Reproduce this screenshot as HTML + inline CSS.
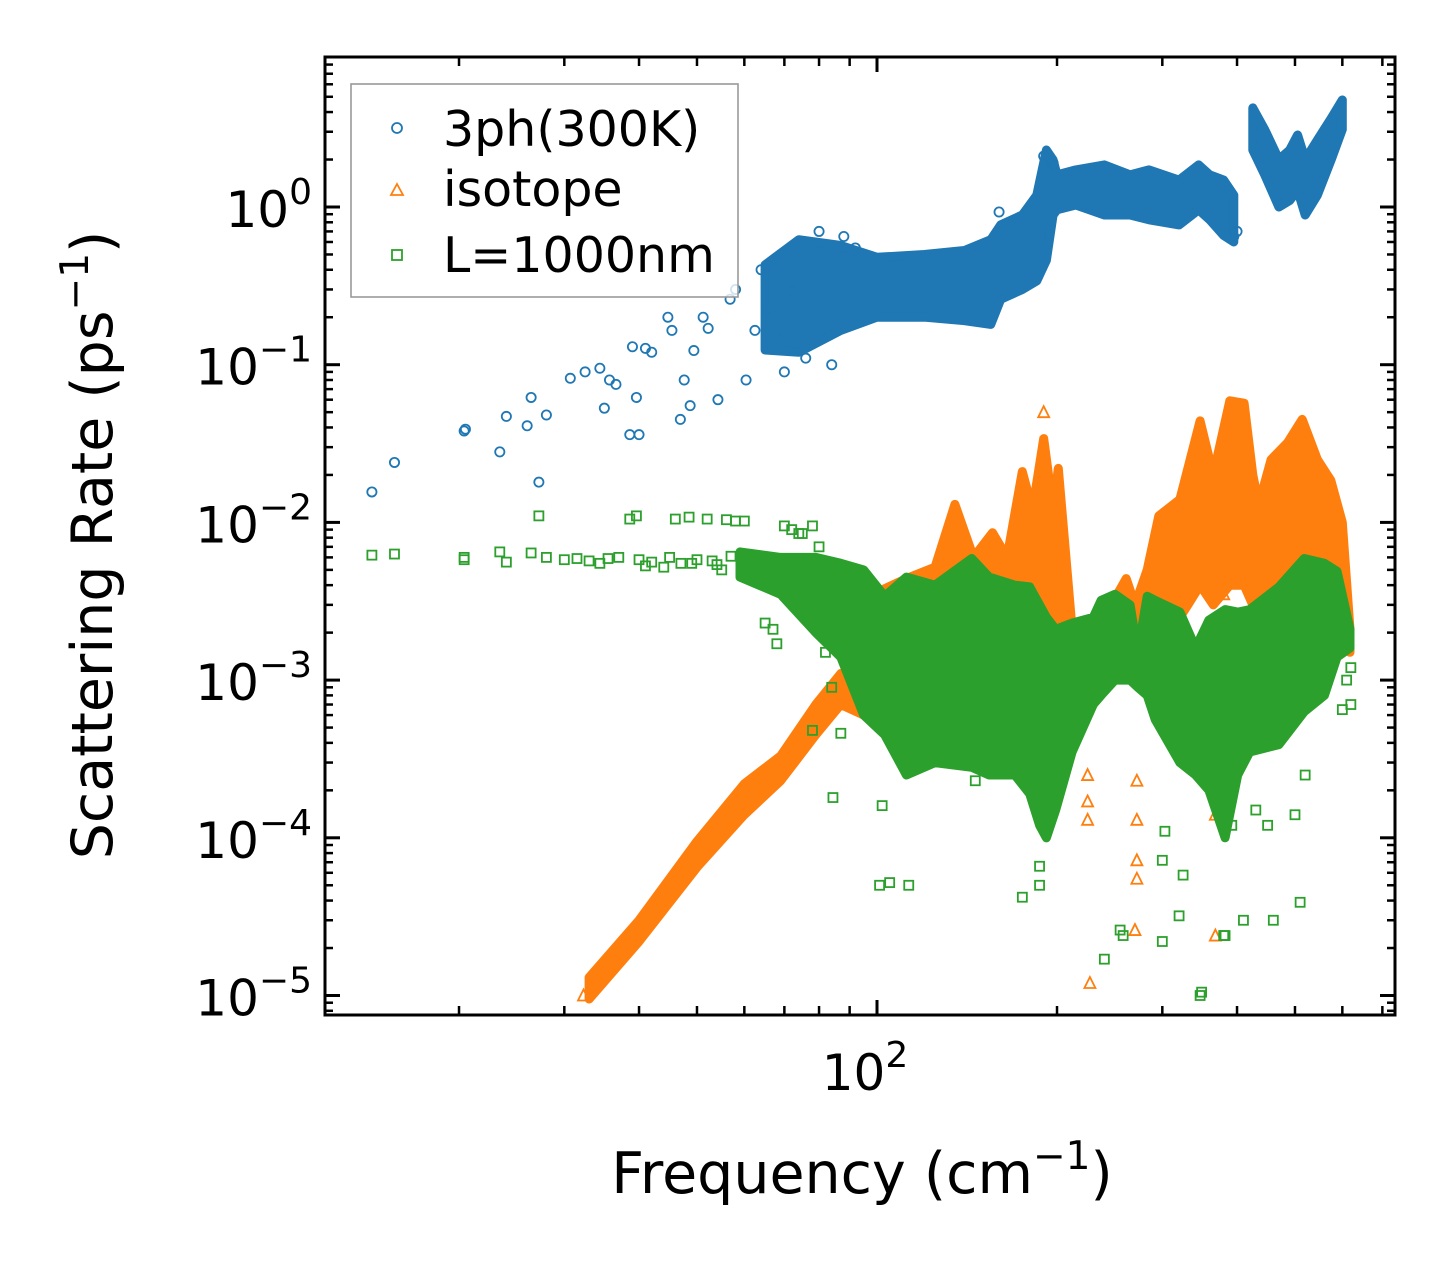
<!DOCTYPE html>
<html><head><meta charset="utf-8">
<style>
html,body{margin:0;padding:0;background:#fff;}
svg{display:block;font-family:"DejaVu Sans","Liberation Sans",sans-serif;}
</style></head>
<body>
<svg id="chart" width="1455" height="1265" viewBox="0 0 1455 1265" xmlns="http://www.w3.org/2000/svg">
<rect x="0" y="0" width="1455" height="1265" fill="#fff"/>
<g id="plot"></g>
<g id="axes"></g>
<text x="862" y="1193" font-size="57" text-anchor="middle">Frequency (cm<tspan dy="-24" font-size="39">−1</tspan><tspan dy="24">)</tspan></text>
<text transform="translate(112,545) rotate(-90)" font-size="57" text-anchor="middle">Scattering Rate (ps<tspan dy="-24" font-size="39">−1</tspan><tspan dy="24">)</tspan></text>
<g>
<rect x="351" y="84" width="387" height="213" fill="#fff" fill-opacity="0.8" stroke="#999" stroke-width="1.6"/>
<circle cx="397" cy="128" r="5" fill="none" stroke="#1f77b4" stroke-width="1.8"/>
<text x="443" y="146" font-size="49">3ph(300K)</text>
<path d="M397,184 L403,195 L391,195 Z" fill="none" stroke="#ff7f0e" stroke-width="1.8"/>
<text x="443" y="206" font-size="49">isotope</text>
<rect x="392" y="250" width="10" height="10" fill="none" stroke="#2ca02c" stroke-width="1.8"/>
<text x="443" y="272" font-size="49">L=1000nm</text>
</g>
</svg>
<script>
// ---- data ----
const blueBandA_f  = [65,74,87,100,120,140,155,161,175,185,192,197,200,215,240,265,285,320,345,360,380,395];
const blueBandA_lo = [0.124,0.12,0.165,0.2,0.2,0.19,0.18,0.26,0.30,0.34,0.46,0.89,0.96,1.03,0.89,0.89,0.83,0.77,0.96,0.83,0.66,0.6];
const blueBandA_hi = [0.43,0.62,0.57,0.48,0.5,0.53,0.62,0.77,0.89,1.19,2.3,1.99,1.6,1.72,1.85,1.6,1.72,1.48,1.85,1.6,1.48,1.19];
const blueBandB_f  = [425,445,470,490,505,520,545,575,600];
const blueBandB_lo = [2.3,1.6,1.0,1.1,1.28,0.89,1.19,2.0,3.1];
const blueBandB_hi = [4.25,3.1,2.0,2.3,2.86,2.0,2.66,3.66,4.77];
const blueScatter_f = [14.3,15.6,20.4,20.5,23.4,24,26,26.4,27.2,28,30.7,32.5,34.4,35.7,35,36.6,39,39.6,38.6,40,41,42,44.7,45.4,46.9,47.6,48.7,49.4,51.2,52.2,54.2,56.8,58,60.4,62.5,64,66,68,70,72,76,80,84,88,92,160,190,194,197,395,400];
const blueScatter_v = [0.0156,0.024,0.038,0.039,0.028,0.047,0.041,0.062,0.018,0.048,0.082,0.09,0.095,0.08,0.053,0.075,0.13,0.062,0.036,0.036,0.127,0.12,0.2,0.165,0.045,0.08,0.055,0.123,0.2,0.17,0.06,0.26,0.3,0.08,0.165,0.4,0.22,0.15,0.09,0.3,0.11,0.7,0.1,0.65,0.55,0.93,2.1,2.0,1.9,0.65,0.7];

const orangeBand_f  = [33,40,50,60,69,79,87,95,98,103,112,125,135,145,156,165,175,182,190,197,201,212,222,240,261,270,283,296,321,331,347,365,389,411,425,435,456,486,514,545,574,600,618];
const orangeBand_lo = [9.5e-6,2.2e-5,6.5e-5,1.4e-4,2.3e-4,4.5e-4,7e-4,6e-4,7e-4,7e-4,7e-4,7e-4,8e-4,8e-4,8e-4,9e-4,1e-3,1.2e-3,1.5e-3,2e-3,2e-3,1.2e-3,8e-4,1e-3,1.5e-3,1.2e-3,1.5e-3,2e-3,2.5e-3,3e-3,4e-3,3e-3,4e-3,4e-3,3e-3,3e-3,4e-3,4e-3,4e-3,3e-3,3e-3,2e-3,1.5e-3];
const orangeBand_hi = [1.3e-5,3.0e-5,9.5e-5,2.2e-4,3.3e-4,7e-4,1.1e-3,1.0e-3,1.5e-3,3.8e-3,4.4e-3,5.2e-3,1.3e-2,6e-3,8.6e-3,6e-3,2.1e-2,1.2e-2,3.4e-2,1.2e-2,2.2e-2,2.1e-3,1.5e-3,2.5e-3,4.4e-3,3e-3,5e-3,1.1e-2,1.4e-2,2.2e-2,4.4e-2,2e-2,5.9e-2,5.7e-2,2e-2,1.3e-2,2.5e-2,3.2e-2,4.5e-2,2.5e-2,1.85e-2,1.0e-2,2.1e-3];
const orangeScatter_f = [32.3,190,227,225,225,225,270,272,272,272,272,368,368,300,310,330,340,355,380,398,432];
const orangeScatter_v = [1.0e-5,0.05,1.2e-5,2.5e-4,1.7e-4,1.3e-4,2.6e-5,2.3e-4,1.3e-4,7.2e-5,5.5e-5,2.4e-5,1.4e-4,4.2e-3,3.2e-3,5.5e-3,7e-3,4.5e-3,3.5e-3,6e-3,1.5e-3];

const greenBand_f  = [59,69,79,87,95,103,112,125,144,154,170,180,187,192,199,212,230,237,250,265,273,283,292,321,341,359,382,401,420,470,518,560,588,618];
const greenBand_lo = [4.5e-3,3.5e-3,2e-3,1.4e-3,6e-4,4.5e-4,2.5e-4,3e-4,2.8e-4,2.5e-4,2.5e-4,1.9e-4,1.2e-4,1e-4,1.5e-4,3.5e-4,7e-4,8e-4,1e-3,1e-3,9e-4,8e-4,5.6e-4,3e-4,2.5e-4,2e-4,1e-4,2.5e-4,3.5e-4,3.9e-4,6.3e-4,8e-4,1.4e-3,1.6e-3];
const greenBand_hi = [6.5e-3,6e-3,6e-3,5.5e-3,5e-3,3.4e-3,4.5e-3,4e-3,5.9e-3,4.5e-3,4e-3,3.9e-3,3e-3,2.5e-3,2.1e-3,2.3e-3,2.5e-3,3.2e-3,3.5e-3,3e-3,1.5e-3,3.4e-3,3.2e-3,2.7e-3,1.6e-3,2.4e-3,2.8e-3,2.7e-3,2.8e-3,3.9e-3,5.9e-3,5.5e-3,4.9e-3,2.1e-3];
const greenScatter_f = [14.3,15.6,20.4,20.4,23.4,24,26.4,27.2,28,30,31.5,33,34.4,35.5,37,38.6,39.6,40,41,42,44,45,46,47,48.5,49,50,52,53,54,55,56,57,58,60,60,62,63,64,65,67,68,70,72,74,75,78,80,82,84,78,84.4,87,102,101,105,113,146,175,187,187,192,240,255,258,300,300,303,320,325,347,349,380,382,392,410,430,450,460,500,510,520,560,600,610,620,620];
const greenScatter_v = [6.2e-3,6.3e-3,5.8e-3,6e-3,6.5e-3,5.6e-3,6.4e-3,0.011,6e-3,5.8e-3,5.9e-3,5.7e-3,5.5e-3,5.9e-3,6e-3,0.0105,0.011,5.8e-3,5.3e-3,5.6e-3,5.2e-3,6e-3,0.0105,5.5e-3,0.0108,5.5e-3,5.8e-3,0.0105,5.7e-3,5.4e-3,5.0e-3,0.0104,6.1e-3,0.0102,0.0102,4.6e-3,5.5e-3,5.0e-3,4.8e-3,2.3e-3,2.1e-3,1.7e-3,0.0095,0.009,0.0085,0.0085,0.0095,7e-3,1.5e-3,9e-4,4.8e-4,1.8e-4,4.6e-4,1.6e-4,5e-5,5.2e-5,5e-5,2.3e-4,4.2e-5,5e-5,6.6e-5,1.5e-4,1.7e-5,2.6e-5,2.4e-5,7.2e-5,2.2e-5,1.1e-4,3.2e-5,5.8e-5,1.0e-5,1.05e-5,2.4e-5,2.4e-5,1.2e-4,3e-5,1.5e-4,1.2e-4,3.0e-5,1.4e-4,3.9e-5,2.5e-4,9e-4,6.5e-4,1.0e-3,1.2e-3,7e-4];

// ---- axis tick data ----
const xMajorTicks = [100];
const xMajorLabels = ["2"];
const xMinorTicks = [20,30,40,50,60,70,80,90,200,300,400,500,600,700];
const yMajorExps = [0,-1,-2,-3,-4,-5];

// ---- scales ----
const PX0=325, PX1=1395, PY0=57, PY1=1015;
const X = f => 877 + 598*(Math.log10(f)-2);
const Y = v => 207 - 157.7*Math.log10(v);
const NS="http://www.w3.org/2000/svg";
const plot=document.getElementById('plot');
const axes=document.getElementById('axes');
function mk(tag, parent, attrs){const e=document.createElementNS(NS,tag);for(const k in attrs)e.setAttribute(k,attrs[k]);parent.appendChild(e);return e;}

const defs=mk('defs',plot,{});
const cp=mk('clipPath',defs,{id:'clip'});
mk('rect',cp,{x:PX0,y:PY0,width:PX1-PX0,height:PY1-PY0});
const g=mk('g',plot,{'clip-path':'url(#clip)'});



function band(fs,lo,hi,color,name){
  let pts=[];
  for(let i=0;i<fs.length;i++) pts.push(X(fs[i]).toFixed(1)+','+Y(hi[i]).toFixed(1));
  for(let i=fs.length-1;i>=0;i--) pts.push(X(fs[i]).toFixed(1)+','+Y(lo[i]).toFixed(1));
  const p=mk('polygon',g,{points:pts.join(' '),fill:color,stroke:color,'stroke-width':9,'stroke-linejoin':'round'});
  
  
}
function scatter(fs,vs,shape,color,name){
  for(let i=0;i<fs.length;i++){
    const x=X(fs[i]), y=Y(vs[i]); let e;
    if(shape==='c') e=mk('circle',g,{cx:x,cy:y,r:4.6,fill:'none',stroke:color,'stroke-width':1.8});
    else if(shape==='t') e=mk('path',g,{d:`M${x},${y-6} L${x+5.5},${y+5} L${x-5.5},${y+5} Z`,fill:'none',stroke:color,'stroke-width':1.8});
    else e=mk('rect',g,{x:x-4.5,y:y-4.5,width:9,height:9,fill:'none',stroke:color,'stroke-width':1.8});
    
    
  }
}
band(blueBandA_f,blueBandA_lo,blueBandA_hi,'#1f77b4','band-3ph-low');
band(blueBandB_f,blueBandB_lo,blueBandB_hi,'#1f77b4','band-3ph-high');
scatter(blueScatter_f,blueScatter_v,'c','#1f77b4','point-3ph');
band(orangeBand_f,orangeBand_lo,orangeBand_hi,'#ff7f0e','band-isotope');
scatter(orangeScatter_f,orangeScatter_v,'t','#ff7f0e','point-isotope');
band(greenBand_f,greenBand_lo,greenBand_hi,'#2ca02c','band-boundary');
scatter(greenScatter_f,greenScatter_v,'s','#2ca02c','point-boundary');

const fr=mk('rect',axes,{x:PX0,y:PY0,width:PX1-PX0,height:PY1-PY0,fill:'none',stroke:'#000','stroke-width':3});


function line(x1,y1,x2,y2,w,name){const l=mk('line',axes,{x1,y1,x2,y2,stroke:'#000','stroke-width':w});}
xMajorTicks.forEach((f,i)=>{
  const x=X(f);
  line(x,PY1,x,PY1-15,3,'x-major-tick');
  line(x,PY0,x,PY0+15,3,'x-major-tick-top');
  const t=mk('text',axes,{x:x-12,y:1090,'font-size':50,'text-anchor':'middle'});
  
  
  t.innerHTML='10<tspan dy="-23" font-size="36">'+xMajorLabels[i]+'</tspan>';
});
xMinorTicks.forEach(f=>{const x=X(f);if(x<PX0||x>PX1)return;line(x,PY1,x,PY1-9,2.5,'x-minor-tick');line(x,PY0,x,PY0+9,2.5,'x-minor-tick-top');});
yMajorExps.forEach(e=>{
  const y=Y(Math.pow(10,e));
  line(PX0,y,PX0+15,y,3,'y-major-tick');
  line(PX1,y,PX1-15,y,3,'y-major-tick-right');
  const t=mk('text',axes,{x:312,y:y+20,'font-size':50,'text-anchor':'end'});
  
  
  t.innerHTML='10<tspan dy="-23" font-size="36">'+(e<0?'−'+(-e):e)+'</tspan>';
});
for(let e=-6;e<=1;e++){for(let m=2;m<=9;m++){const y=Y(m*Math.pow(10,e));if(y<PY0+2||y>PY1-2)continue;line(PX0,y,PX0+8,y,2.5,'y-minor-tick');line(PX1,y,PX1-8,y,2.5,'y-minor-tick-right');}}
</script>
</body></html>
